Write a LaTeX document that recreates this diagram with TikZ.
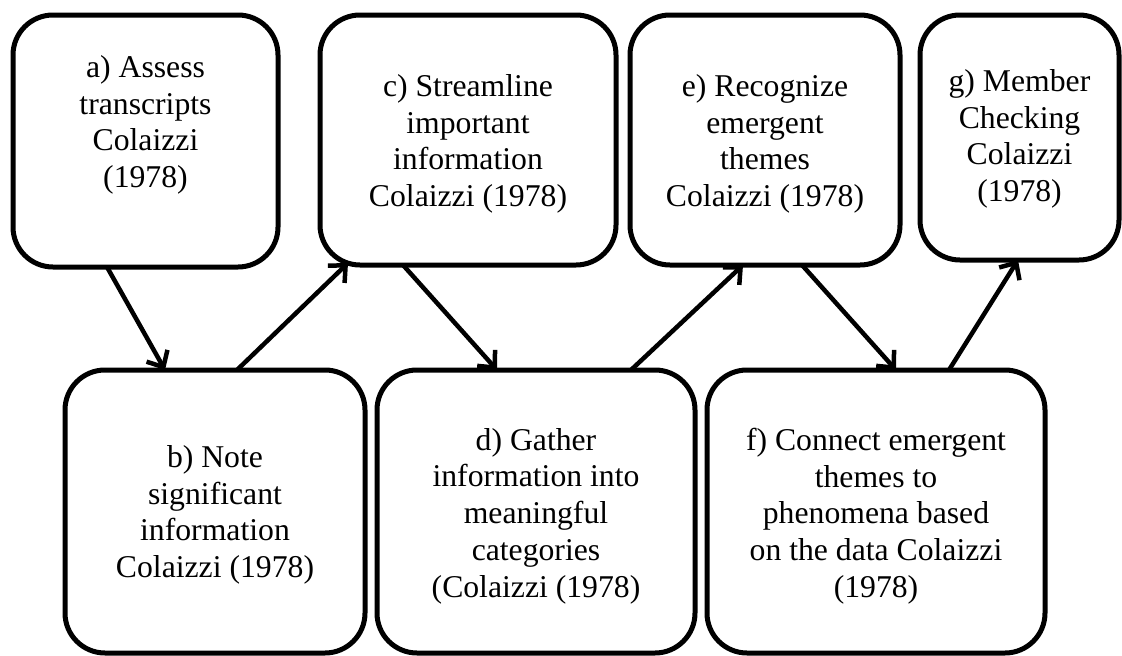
\documentclass[tikz,border=0pt]{standalone}
\usepackage{fontspec}
\setmainfont{Liberation Serif}
\usetikzlibrary{arrows.meta}
\begin{document}
\begin{tikzpicture}[x=1pt,y=-1pt,
  box/.style={draw, line width=5pt, rounded corners=40pt, outer sep=0pt, inner sep=0pt},
  txt/.style={align=center, font=\fontsize{31.7pt}{36.7pt}\selectfont, inner sep=0pt},
  conn/.style={line width=4.5pt, -{Straight Barb[length=13pt,width=24pt]}}]
\useasboundingbox (0,0) rectangle (1122,656);
% boxes
\node[box, minimum width=265pt, minimum height=252pt] (a) at (145.5,141) {};
\node[box, minimum width=296pt, minimum height=250pt] (c) at (468,140) {};
\node[box, minimum width=270pt, minimum height=250pt] (e) at (765,140) {};
\node[box, minimum width=199pt, minimum height=245pt] (g) at (1019.5,137.5) {};
\node[box, minimum width=300pt, minimum height=283pt] (b) at (215,511.5) {};
\node[box, minimum width=318pt, minimum height=283pt] (d) at (536,511.5) {};
\node[box, minimum width=338pt, minimum height=283pt] (f) at (876,511.5) {};
% texts
\node[txt] (ta) at (145.5,125) {a) Assess\\transcripts\\Colaizzi\\(1978)};
\node[txt] (tc) at (468,144) {c) Streamline\\important\\information\\Colaizzi (1978)};
\node[txt] (te) at (765,144) {e) Recognize\\emergent\\themes\\Colaizzi (1978)};
\node[txt] (tg) at (1019.5,139) {g) Member\\Checking\\Colaizzi\\(1978)};
\node[txt] (tb) at (215,515) {b) Note\\significant\\information\\Colaizzi (1978)};
\node[txt] (td) at (536,516) {d) Gather\\information into\\meaningful\\categories\\(Colaizzi (1978)};
\node[txt] (tf) at (876,516) {f) Connect emergent\\themes to\\phenomena based\\on the data Colaizzi\\(1978)};
% connectors
\draw[conn] ([xshift=94pt]a.south west) -- ([xshift=100pt]b.north west);
\draw[conn] ([xshift=172pt]b.north west) -- ([xshift=28pt,yshift=2pt]c.south west);
\draw[conn] ([xshift=83pt]c.south west) -- ([xshift=120pt]d.north west);
\draw[conn] ([xshift=254pt]d.north west) -- ([xshift=113pt]e.south west);
\draw[conn] ([xshift=172pt]e.south west) -- ([xshift=189pt]f.north west);
\draw[conn] ([xshift=242pt]f.north west) -- ([xshift=98pt]g.south west);
\end{tikzpicture}
\end{document}
